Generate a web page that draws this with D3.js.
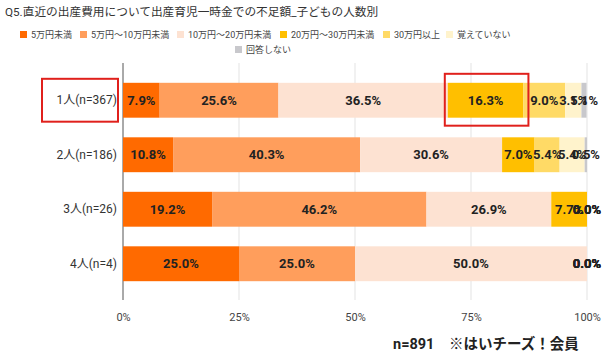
<!DOCTYPE html>
<html>
<head>
<meta charset="utf-8">
<script src="https://cdn.jsdelivr.net/npm/d3@7"></script>
<style>
body{margin:0;background:#fff;}
text{font-family:Roboto,"Noto Sans CJK JP",sans-serif;}
</style>
</head>
<body>
<div class="mainView"></div>
<script>
// data
let categories = ["1人(n=367)","2人(n=186)","3人(n=26)","4人(n=4)"]
let seriesNames = ["5万円未満","5万円～10万円未満","10万円～20万円未満","20万円～30万円未満","30万円以上","覚えていない","回答しない"]
let seriesColors = ["#ff6a00","#ff9e5c","#fde2d2","#ffbf00","#ffda66","#fff3cc","#c8c8cc"]
let row1 = [7.9,25.6,36.5,16.3,9.0,3.5,1.1]
let row2 = [10.8,40.3,30.6,7.0,5.4,5.4,0.5]
let row3 = [19.2,46.2,26.9,7.7,0.0,0.0,0.0]
let row4 = [25.0,25.0,50.0,0.0,0.0,0.0,0.0]
let tickValues = [0,25,50,75,100]
let titleText = "Q5.直近の出産費用について出産育児一時金での不足額_子どもの人数別"
let noteText = "n=891　※はいチーズ！会員"

function getConfig(){
    let width = 602;
    let height = 353;
    let margin = {top:73, bottom:62, left:123, right:15}
    let bodyWidth = width - margin.left - margin.right;
    let bodyHeight = height - margin.top - margin.bottom;
    let svg = d3.select(".mainView")
        .append("svg")
        .attr("width", width)
        .attr("height", height)
    let container = svg.append("g")
        .attr("transform","translate("+[margin.left,margin.top]+")")
    return {width, height, margin, bodyWidth, bodyHeight, svg, container}
}

function getScales(config){
    let {bodyWidth, bodyHeight} = config;
    let xScale = d3.scaleLinear().domain([0,100]).range([0,bodyWidth])
    let yScale = d3.scaleBand().domain(categories).range([0,bodyHeight]).paddingInner(0.36).paddingOuter(0.18)
    let cScale = d3.scaleOrdinal().domain(seriesNames).range(seriesColors)
    return {xScale, yScale, cScale}
}

function drawHeader(config, scales){
    let {svg} = config;
    let {cScale} = scales;
    svg.append("text")
        .attr("x",5).attr("y",16)
        .style("font-size","11.7px")
        .attr("fill","#333")
        .text(titleText)

    // legend positions
    let legendPos = [[20,35],[80,35],[177,35],[280,35],[383,35],[446,35],[235,50]]
    let lg = svg.append("g")
    seriesNames.forEach((s,i)=>{
        let p = legendPos[i]
        lg.append("rect")
            .attr("x",p[0]).attr("y",p[1]-4)
            .attr("width",7).attr("height",7)
            .attr("fill",cScale(s))
        lg.append("text")
            .attr("x",p[0]+11).attr("y",p[1]+3)
            .style("font-size","9px")
            .attr("fill","#444")
            .text(s)
    })
}

function drawAxes(config, scales){
    let {container, bodyHeight} = config;
    let {xScale, yScale} = scales;
    let gridTop = -10, gridBottom = bodyHeight + 9;

    container.append("g")
        .selectAll("line")
        .data(tickValues.filter(d=>d>0))
        .enter().append("line")
        .attr("x1",d=>xScale(d)).attr("x2",d=>xScale(d))
        .attr("y1",gridTop).attr("y2",gridBottom)
        .attr("stroke","#e3e3e3")

    let axisX = d3.axisBottom(xScale).tickValues(tickValues).tickSize(0).tickFormat(d=>d+"%")
    let gx = container.append("g")
        .attr("transform","translate(0,"+(gridBottom+10)+")")
        .call(axisX)
    gx.select(".domain").remove()
    gx.selectAll("text").style("font-size","11px").attr("fill","#444")

    let axisY = d3.axisLeft(yScale).tickSize(0).tickPadding(6)
    let gy = container.append("g").call(axisY)
    gy.select(".domain").remove()
    gy.selectAll("text").style("font-size","12px").attr("fill","#333")

    container.append("line")
        .attr("x1",0).attr("x2",0)
        .attr("y1",gridTop).attr("y2",gridBottom)
        .attr("stroke","#555")
}

function drawBars(config, scales){
    let {container} = config;
    let {xScale, yScale, cScale} = scales;
    let rows = [row1,row2,row3,row4]
    let table = categories.map((c,i)=>{
        let obj = {cat:c}
        seriesNames.forEach((s,j)=>obj[s]=rows[i][j])
        return obj
    })
    let stacked = d3.stack().keys(seriesNames)(table)

    let layers = container.selectAll(".layer")
        .data(stacked)
        .enter().append("g")
        .attr("class","layer")
        .attr("fill",d=>cScale(d.key))
    layers.selectAll("rect")
        .data(d=>d)
        .enter().append("rect")
        .attr("x",d=>xScale(d[0]))
        .attr("y",d=>yScale(d.data.cat))
        .attr("width",d=>xScale(d[1])-xScale(d[0]))
        .attr("height",yScale.bandwidth())

    let labels = container.append("g")
    stacked.forEach(layer=>{
        layer.forEach(d=>{
            labels.append("text")
                .attr("x",xScale((d[0]+d[1])/2))
                .attr("y",yScale(d.data.cat)+yScale.bandwidth()/2)
                .attr("dy","0.36em")
                .attr("text-anchor","middle")
                .style("font-size","13px")
                .style("font-weight","bold")
                .attr("fill","#222")
                .text((d[1]-d[0]).toFixed(1)+"%")
        })
    })
}

function drawMarks(config, scales){
    let {svg, margin} = config;
    let {xScale, yScale} = scales;
    // red highlight boxes
    svg.append("rect")
        .attr("x",42).attr("y",margin.top+yScale(categories[0])-4)
        .attr("width",76).attr("height",yScale.bandwidth()+8)
        .attr("fill","none").attr("stroke","#e0201c").attr("stroke-width",2)
    let s0 = row1.slice(0,3).reduce((a,b)=>a+b,0)
    svg.append("rect")
        .attr("x",margin.left+xScale(s0)-3).attr("y",margin.top+yScale(categories[0])-9)
        .attr("width",xScale(row1[3])+8).attr("height",yScale.bandwidth()+17)
        .attr("fill","none").attr("stroke","#e0201c").attr("stroke-width",2)

    svg.append("text")
        .attr("x",393).attr("y",349)
        .style("font-size","14.5px")
        .style("font-weight","bold")
        .attr("fill","#222")
        .text(noteText)
}

let config = getConfig();
let scales = getScales(config);
drawHeader(config, scales);
drawAxes(config, scales);
drawBars(config, scales);
drawMarks(config, scales);
</script>
</body>
</html>
